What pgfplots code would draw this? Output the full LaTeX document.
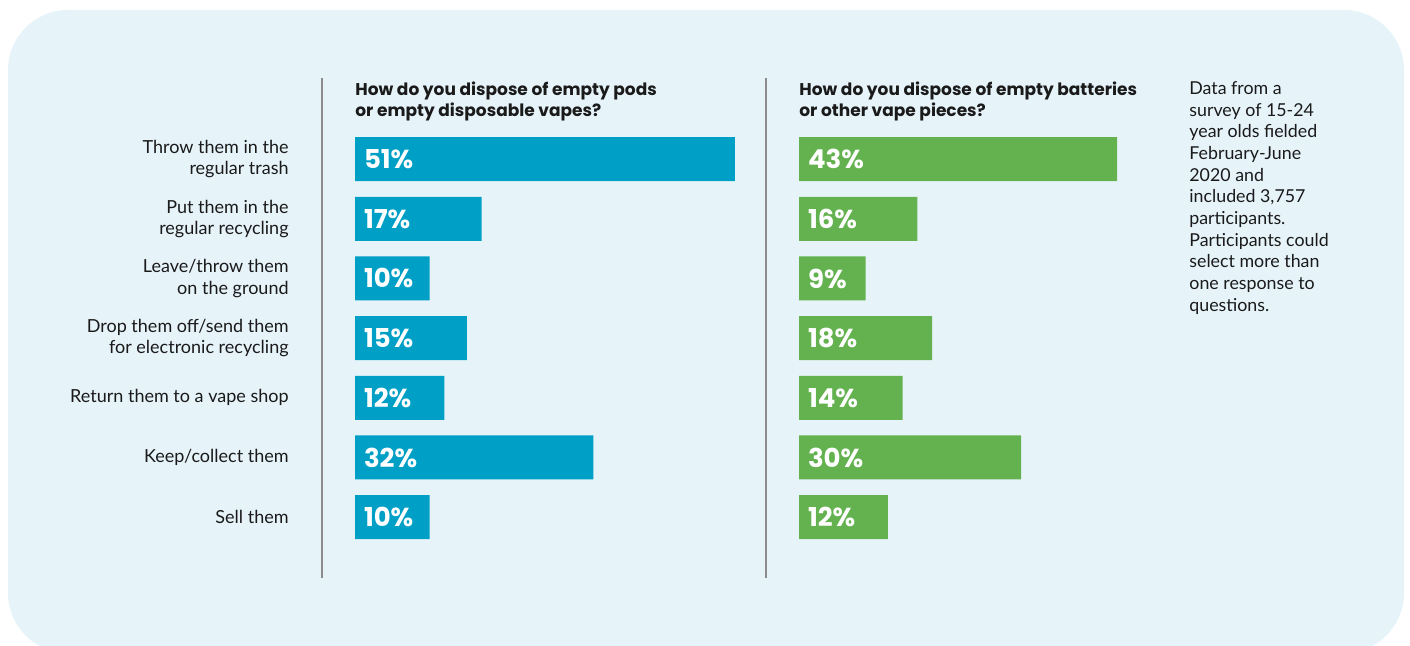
\documentclass[border=0pt]{standalone}
\usepackage{pgfplots}
\usepackage{pgfplotstable}
\pgfplotsset{compat=1.18}
\usepackage{fontspec}
\setmainfont{Lato}
\newfontfamily\headfont{Poppins}
\definecolor{bg}{HTML}{E6F4FA}
\definecolor{barblue}{HTML}{009FC6}
\definecolor{bargreen}{HTML}{63B24F}
\definecolor{linegray}{HTML}{8C8C8C}
\definecolor{txt}{HTML}{1A1A1A}

\pgfplotstableread{
row left right
0 51 43
1 17 16
2 10 9
3 15 18
4 12 14
5 32 30
6 10 12
}\datatable

\pgfplotsset{panel/.style={
  x=3.725pt, y=29.835pt, y dir=reverse,
  xmin=-4.43, xmax=56, ymin=-1.357, ymax=7.02,
  axis x line=none, axis y line=left,
  axis line style={-, draw=linegray, line width=0.8pt},
  ytick={0,...,6}, major tick length=0pt,
  clip=false,
  anchor=south west,
  yticklabel style={align=right, inner sep=0pt, xshift=-16.5pt, text=txt,
     font=\fontsize{9}{10.75}\selectfont},
}}
\pgfplotsset{pct/.style={
  draw=none, mark=none,
  nodes near coords={\pgfmathprintnumber[assume math mode=true]{\pgfplotspointmeta}\%},
  point meta=explicit,
  every node near coord/.append style={anchor=west, inner sep=0pt, xshift=4.3pt,
     text=white, font=\headfont\bfseries\fontsize{13}{14}\selectfont},
}}

\begin{document}
\begin{tikzpicture}[x=1pt,y=1pt]
\useasboundingbox (0,0) rectangle (705,323);
\fill[white] (0,0) rectangle (705,323);
\begin{scope}
\clip (0,0) rectangle (705,323);
\fill[bg, rounded corners=30pt] (4,-3.5) rectangle (702,318);
\end{scope}

\begin{axis}[panel, at={(161pt,34pt)},
  yticklabels={{Throw them in the\\regular trash},
               {Put them in the\\regular recycling},
               {Leave/throw them\\on the ground},
               {Drop them off/send them\\for electronic recycling},
               {Return them to a vape shop},
               {Keep/collect them},
               {Sell them}}]
\addplot[xbar, bar width=22pt, fill=barblue, draw=none] table[x=left, y=row]{\datatable};
\addplot[pct] table[x expr=0, y=row, meta=left]{\datatable};
\end{axis}

\begin{axis}[panel, at={(383pt,34pt)}, x=3.70pt, xmin=-4.46, yticklabels={}]
\addplot[xbar, bar width=22pt, fill=bargreen, draw=none] table[x=right, y=row]{\datatable};
\addplot[pct] table[x expr=0, y=row, meta=right]{\datatable};
\end{axis}

\node[anchor=north west, align=left, inner sep=0pt, text=txt,
  font=\headfont\bfseries\fontsize{8.5}{10.5}\selectfont] at (177.5,282.5)
  {How do you dispose of empty pods\\or empty disposable vapes?};
\node[anchor=north west, align=left, inner sep=0pt, text=txt,
  font=\headfont\bfseries\fontsize{8.5}{10.5}\selectfont] at (399.5,282.5)
  {How do you dispose of empty batteries\\or other vape pieces?};
\node[anchor=north west, align=left, inner sep=0pt, text=txt,
  font=\fontsize{8.9}{10.85}\selectfont] at (594.5,282.5)
  {Data from a\\survey of 15-24\\year olds fielded\\February-June\\2020 and\\included 3,757\\participants.\\Participants could\\select more than\\one response to\\questions.};
\end{tikzpicture}
\end{document}
